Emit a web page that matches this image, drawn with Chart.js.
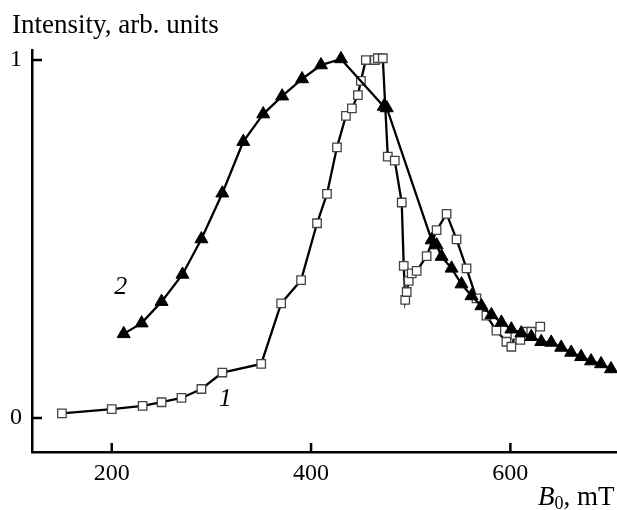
<!DOCTYPE html>
<html>
<head>
<meta charset="utf-8">
<script src="https://cdn.jsdelivr.net/npm/chart.js@4/dist/chart.umd.min.js"></script>
<style>
  html, body { margin: 0; padding: 0; background: #fff; }
  #wrap { width: 617px; height: 510px; position: relative; }
</style>
</head>
<body>
<div id="wrap"><canvas id="chart"></canvas></div>
<script>
// curve 1 (open squares)
const field1 = [150, 200, 231, 250, 270, 290, 311, 350, 370, 390, 406, 416, 426, 435, 441, 447, 450, 455, 464, 467, 472,
    477, 484, 491, 493, 494.5, 496, 498, 501, 506, 516, 526, 536, 546, 556, 566, 576, 586, 596, 601, 605, 610, 615, 621, 630];
const intensity1 = [0.013, 0.025, 0.034, 0.044, 0.056, 0.081, 0.127, 0.151, 0.320, 0.385, 0.544, 0.626, 0.756, 0.844, 0.865, 0.902, 0.942, 1.0, 1.0, 1.005, 1.005,
    0.730, 0.719, 0.602, 0.425, 0.330, 0.352, 0.383, 0.404, 0.411, 0.452, 0.525, 0.570, 0.499, 0.418, 0.334, 0.286, 0.244, 0.213, 0.199, 0.232, 0.218, 0.241, 0.241, 0.255];

// curve 2 (filled triangles)
const field2 = [212, 230, 250, 271, 290, 311, 332, 352, 371, 391, 410, 430, 473, 476,
    521, 526, 531, 541, 551, 561, 571, 581, 591, 601, 611, 621, 631, 641, 651, 661, 671, 681, 691, 701];
const intensity2 = [0.235, 0.265, 0.325, 0.401, 0.500, 0.628, 0.772, 0.849, 0.899, 0.947, 0.986, 1.003, 0.870, 0.866,
    0.497, 0.483, 0.451, 0.418, 0.374, 0.341, 0.313, 0.288, 0.267, 0.248, 0.237, 0.227, 0.213, 0.211, 0.197, 0.183, 0.171, 0.159, 0.151, 0.137];

const xTicks = [200, 400, 600];
const yTicks = [0, 1];

// curve numbers placed in data coordinates
const curveLabels = [
    { text: '1', x: 314, y: 0.053 },
    { text: '2', x: 209, y: 0.366 }
];

const SERIF = '"Liberation Serif", "Times New Roman", serif';

function toPoints(xs, ys) {
    return xs.map((x, i) => ({ x: x, y: ys[i] }));
}

// inward ticks, x tick labels, title, axis name, curve numbers
const extrasPlugin = {
    id: 'extras',
    afterDraw(chart) {
        const c = chart.ctx;
        const xs = chart.scales.x;
        const ys = chart.scales.y;
        c.save();
        c.strokeStyle = '#000';
        c.lineWidth = 2.5;
        xTicks.forEach(v => {
            const px = xs.getPixelForValue(v);
            c.beginPath();
            c.moveTo(px, xs.top);
            c.lineTo(px, xs.top - 9);
            c.stroke();
        });
        yTicks.forEach(v => {
            const py = ys.getPixelForValue(v);
            c.beginPath();
            c.moveTo(ys.right, py);
            c.lineTo(ys.right + 10, py);
            c.stroke();
        });

        c.fillStyle = '#000';
        c.textBaseline = 'alphabetic';
        c.textAlign = 'center';
        c.font = '24px ' + SERIF;
        xTicks.forEach(v => {
            c.fillText(String(v), xs.getPixelForValue(v), xs.top + 28);
        });

        c.textAlign = 'left';
        c.font = '27px ' + SERIF;
        c.fillText('Intensity, arb. units', 12, 33);

        // B0, mT
        let bx = 538;
        const by = 505;
        c.font = 'italic 27px ' + SERIF;
        c.fillText('B', bx, by);
        bx += c.measureText('B').width;
        c.font = '18px ' + SERIF;
        c.fillText('0', bx, by + 4);
        bx += c.measureText('0').width;
        c.font = '27px ' + SERIF;
        c.fillText(', mT', bx, by);

        c.font = 'italic 26px ' + SERIF;
        c.textAlign = 'center';
        c.textBaseline = 'middle';
        curveLabels.forEach(l => {
            c.fillText(l.text, xs.getPixelForValue(l.x), ys.getPixelForValue(l.y));
        });
        c.restore();
    }
};

new Chart(document.getElementById('chart'), {
    type: 'line',
    data: {
        datasets: [
            {
                label: '2',
                data: toPoints(field2, intensity2),
                borderColor: '#000',
                borderWidth: 2.3,
                pointStyle: 'triangle',
                pointRadius: 7.5,
                pointBackgroundColor: '#000',
                pointBorderColor: '#000',
                pointBorderWidth: 1,
                tension: 0,
                clip: false,
                order: 0
            },
            {
                label: '1',
                data: toPoints(field1, intensity1),
                borderColor: '#000',
                borderWidth: 2.3,
                pointStyle: 'rect',
                pointRadius: 6,
                pointBackgroundColor: '#fff',
                pointBorderColor: '#444',
                pointBorderWidth: 1.3,
                tension: 0,
                clip: false,
                order: 1
            }
        ]
    },
    options: {
        responsive: true,
        maintainAspectRatio: false,
        animation: false,
        layout: { autoPadding: false, padding: { top: 50, left: 0, right: 0, bottom: 0 } },
        plugins: {
            legend: { display: false },
            tooltip: { enabled: false }
        },
        scales: {
            x: {
                type: 'linear',
                min: 120,
                max: 707,
                grid: { display: false, drawTicks: false },
                border: { display: true, color: '#000', width: 2.5 },
                afterBuildTicks: scale => { scale.ticks = xTicks.map(v => ({ value: v })); },
                afterFit: scale => { scale.height = 58; },
                ticks: { display: false }
            },
            y: {
                type: 'linear',
                min: -0.095,
                max: 1.028,
                grid: { display: false, drawTicks: false },
                border: { display: true, color: '#000', width: 2.5 },
                afterBuildTicks: scale => { scale.ticks = yTicks.map(v => ({ value: v })); },
                afterFit: scale => { scale.width = 32; },
                ticks: {
                    color: '#000',
                    padding: 10,
                    font: { family: SERIF, size: 24 }
                }
            }
        }
    },
    plugins: [extrasPlugin]
});
</script>
</body>
</html>
